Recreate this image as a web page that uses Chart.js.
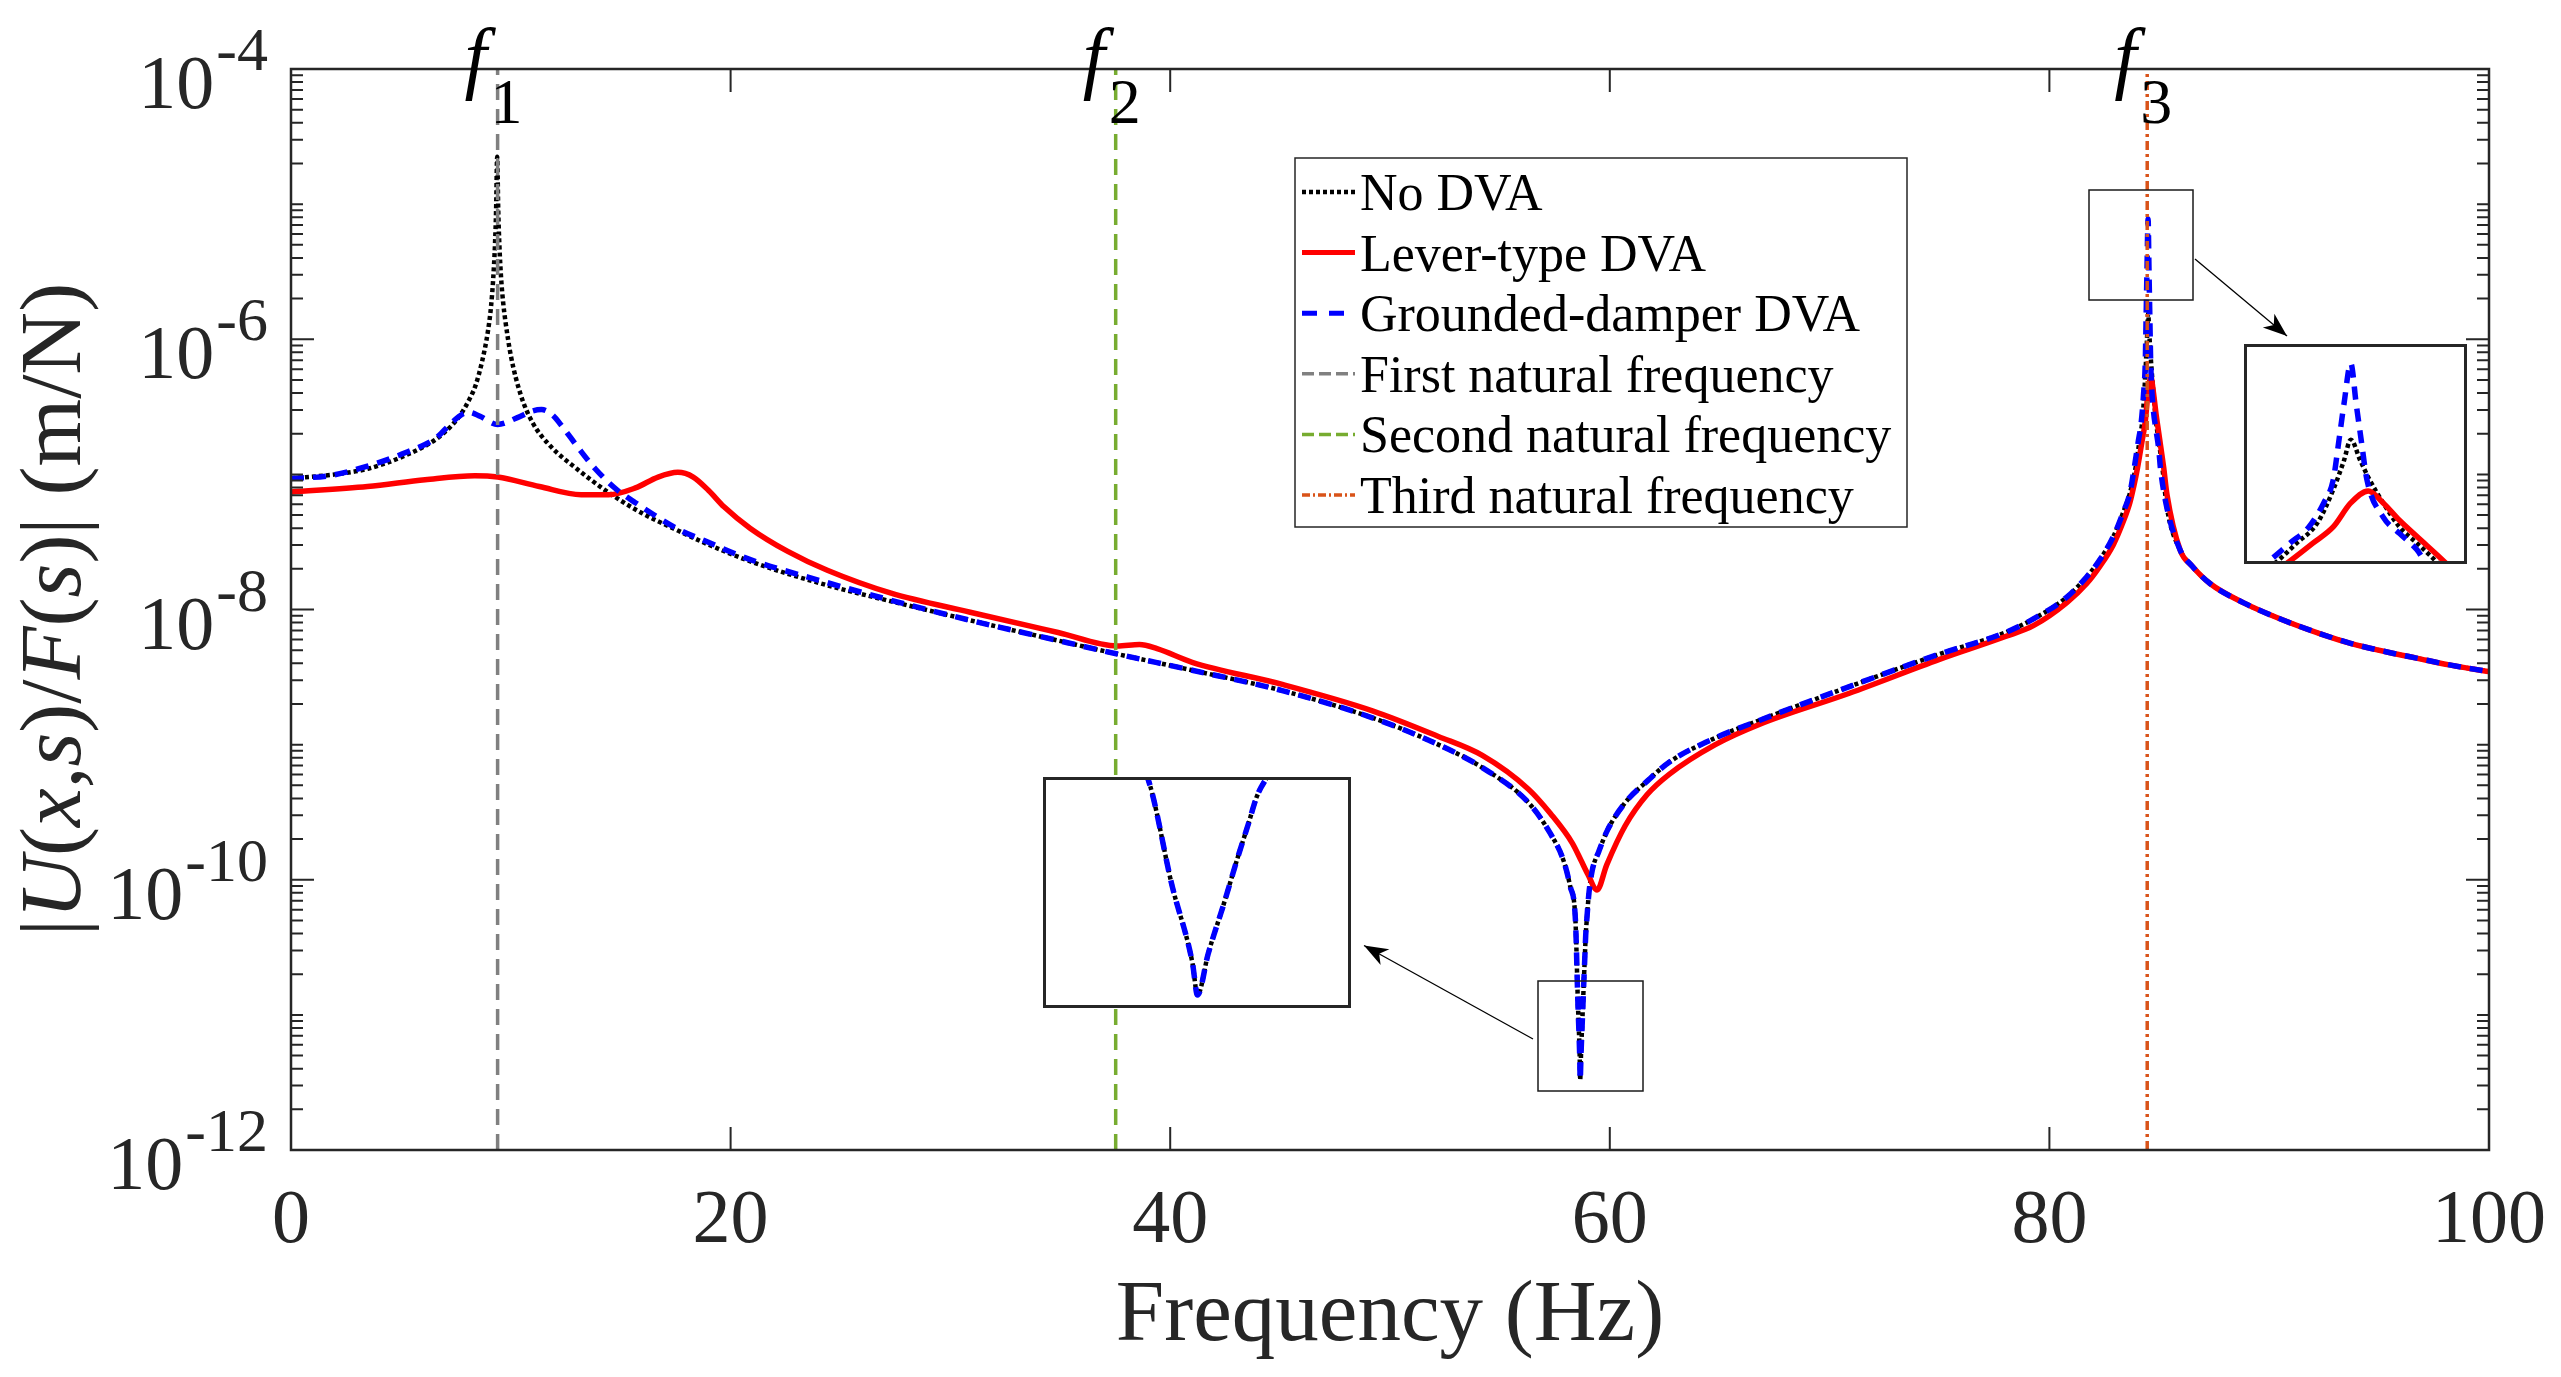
<!DOCTYPE html>
<html>
<head>
<meta charset="utf-8">
<script src="https://cdn.jsdelivr.net/npm/chart.js@4.4.1/dist/chart.umd.min.js"></script>
<style>
html,body{margin:0;padding:0;background:#fff;overflow:hidden;}
#wrap{position:relative;width:2561px;height:1377px;background:#fff;}
canvas{position:absolute;left:0;top:0;}
</style>
</head>
<body>
<div id="wrap">
<canvas id="main" width="2561" height="1377"></canvas>
<canvas id="inset1" width="308" height="231"></canvas>
<canvas id="inset2" width="223" height="220"></canvas>
</div>
<script>
// ---------------- data ----------------
const freqNoDva = [0,2,3.5,5.2,6.6,7.3,7.7,8.1,8.4,8.7,8.95,9.1,9.2,9.28,9.33,9.38,9.43,9.48,9.56,9.66,9.75,10,10.45,11,11.8,13,14.5,16,17.4,19,21,24.4,27.3,30.9,34.9,37.6,41,45.1,49.2,52.2,54.2,56.3,57.3,57.9,58.2,58.437,58.546,58.631,58.652,58.697,58.763,58.82,58.867,58.904,58.951,59.05,59.2,59.5,59.9,60.7,61.7,62.7,64.8,66.8,70.9,75,78,79.27,80.78,81.69,82.3,82.91,83.36,83.66,83.92,84.09,84.24,84.36,84.44,84.49,84.56,84.63,84.73,84.85,84.98,85.14,85.35,85.95,86.5,87.32,88.84,90.51,92.33,93.7,95.51,96.7,98.2,100];
const magNoDva = [9.33e-8,1.0e-7,1.10e-7,1.38e-7,1.82e-7,2.29e-7,2.75e-7,3.55e-7,4.57e-7,6.92e-7,1.12e-6,1.74e-6,2.82e-6,5.01e-6,8.91e-6,2.24e-5,8.91e-6,5.01e-6,2.82e-6,1.82e-6,1.38e-6,7.59e-7,3.89e-7,2.40e-7,1.62e-7,1.10e-7,7.24e-8,5.13e-8,3.98e-8,3.02e-8,2.24e-8,1.51e-8,1.15e-8,8.32e-9,5.89e-9,4.68e-9,3.55e-9,2.51e-9,1.58e-9,1.0e-9,6.76e-10,3.72e-10,2.19e-10,1.38e-10,8.91e-11,5.01e-11,1.26e-11,4.90e-12,3.31e-12,5.50e-12,1.02e-11,1.78e-11,2.75e-11,3.89e-11,5.01e-11,7.94e-11,1.17e-10,1.62e-10,2.34e-10,3.72e-10,5.37e-10,7.41e-10,1.12e-9,1.51e-9,2.69e-9,4.68e-9,6.76e-9,8.51e-9,1.23e-8,1.74e-8,2.34e-8,3.47e-8,5.25e-8,7.24e-8,1.12e-7,1.74e-7,2.63e-7,5.37e-7,1.0e-6,1.55e-6,1.0e-6,6.61e-7,4.07e-7,2.45e-7,1.74e-7,1.12e-7,5.62e-8,2.75e-8,2.09e-8,1.55e-8,1.12e-8,8.51e-9,6.61e-9,5.62e-9,4.79e-9,4.37e-9,3.89e-9,3.47e-9];

const freqLever = [0,3.48,6.1,8.36,9.4,11.3,13.2,14.45,15.67,16.7,17.6,18.3,19,19.7,20.9,22.6,24.4,27.3,30.9,34.9,37.6,38.6,39.4,41,45.1,49.2,52.2,54.2,56.3,57.3,58.3,58.7,59,59.42,59.86,60.7,61.7,62.7,64.8,66.8,70.9,75,78,79.27,80.78,81.69,82.3,82.91,83.36,83.66,83.85,84.01,84.21,84.36,84.49,84.62,84.73,84.85,84.98,85.2,85.35,85.95,86.5,87.32,88.84,90.51,92.33,93.7,95.51,96.7,98.2,100];
const magLever = [7.41e-8,8.13e-8,9.12e-8,9.77e-8,9.55e-8,8.13e-8,7.08e-8,7.08e-8,7.94e-8,9.55e-8,1.035e-7,9.55e-8,7.59e-8,5.75e-8,3.98e-8,2.69e-8,1.95e-8,1.32e-8,9.55e-9,6.76e-9,5.37e-9,5.50e-9,5.13e-9,4.07e-9,2.79e-9,1.78e-9,1.15e-9,8.32e-10,4.68e-10,3.09e-10,1.86e-10,1.38e-10,1.10e-10,8.41e-11,1.29e-10,2.51e-10,4.27e-10,6.03e-10,1.0e-9,1.41e-9,2.40e-9,4.27e-9,6.31e-9,7.59e-9,1.12e-8,1.55e-8,2.09e-8,3.02e-8,4.47e-8,6.17e-8,8.32e-8,1.12e-7,1.74e-7,2.45e-7,4.07e-7,5.25e-7,4.07e-7,2.82e-7,2.00e-7,1.12e-7,7.08e-8,2.75e-8,2.09e-8,1.55e-8,1.12e-8,8.51e-9,6.61e-9,5.62e-9,4.79e-9,4.37e-9,3.89e-9,3.47e-9];

const freqGrounded = [0,1.74,3.48,5.22,6.6,7.3,7.8,8.1,8.6,9.4,10.3,11,11.4,11.9,12.36,13.06,13.84,14.8,15.67,17.67,18.8,20.9,24.4,27.3,30.9,34.9,37.6,41,45.1,49.2,52.2,54.2,56.3,57.3,57.9,58.2,58.437,58.546,58.631,58.652,58.697,58.763,58.82,58.867,58.904,58.951,59.05,59.2,59.5,59.9,60.7,61.7,62.7,64.8,66.8,70.9,75,78,79.27,80.78,81.69,82.3,82.91,83.36,83.66,83.86,84.04,84.18,84.29,84.36,84.4,84.44,84.49,84.53,84.57,84.61,84.73,84.85,84.98,85.05,85.35,85.95,86.5,87.32,88.84,90.51,92.33,93.7,95.51,96.7,98.2,100];
const magGrounded = [9.33e-8,9.77e-8,1.15e-7,1.45e-7,1.86e-7,2.40e-7,2.79e-7,2.88e-7,2.69e-7,2.34e-7,2.63e-7,2.95e-7,3.02e-7,2.75e-7,2.24e-7,1.58e-7,1.10e-7,7.76e-8,6.17e-8,3.89e-8,3.24e-8,2.34e-8,1.58e-8,1.17e-8,8.32e-9,5.89e-9,4.68e-9,3.55e-9,2.51e-9,1.58e-9,1.0e-9,6.76e-10,3.72e-10,2.19e-10,1.38e-10,8.91e-11,5.01e-11,1.26e-11,4.90e-12,3.31e-12,5.50e-12,1.02e-11,1.78e-11,2.75e-11,3.89e-11,5.01e-11,7.94e-11,1.17e-10,1.62e-10,2.34e-10,3.72e-10,5.37e-10,7.41e-10,1.12e-9,1.51e-9,2.69e-9,4.68e-9,6.76e-9,8.51e-9,1.23e-8,1.74e-8,2.34e-8,3.47e-8,5.25e-8,7.24e-8,1.12e-7,1.74e-7,2.45e-7,4.07e-7,6.61e-7,1.45e-6,3.31e-6,7.76e-6,3.31e-6,1.45e-6,6.61e-7,3.02e-7,2.14e-7,1.51e-7,1.12e-7,5.62e-8,2.75e-8,2.09e-8,1.55e-8,1.12e-8,8.51e-9,6.61e-9,5.62e-9,4.79e-9,4.37e-9,3.89e-9,3.47e-9];

const naturalFreqs = [9.4, 37.52, 84.45];
const naturalLabels = ['1', '2', '3'];
const xRange = [0, 100];
const yRange = [1e-12, 1e-4];
const xTickValues = [0, 20, 40, 60, 80, 100];
const yLabelExps = [-12, -10, -8, -6, -4];
const inset1XRange = [58.0, 59.3];
const inset1YRange = [2.82e-12, 4.9e-11];
const inset2XRange = [83.7, 85.35];
const inset2YRange = [1.12e-7, 1.17e-5];
const legendLabels = ['No DVA', 'Lever-type DVA', 'Grounded-damper DVA', 'First natural frequency', 'Second natural frequency', 'Third natural frequency'];

// ---------------- styles / layout ----------------
const AX = '#262626';
const SERIF = "'Liberation Serif', 'Times New Roman', serif";
const styles = {
  noDva:    {color:'#000000', width:4.5, dash:[4,3],  legendDash:[4,3]},
  lever:    {color:'#FF0000', width:5.5, dash:[],     legendDash:[]},
  grounded: {color:'#0000FF', width:5.5, dash:[13,9], legendDash:[15,12]},
  f1:       {color:'#808080', width:3.5, dash:[16,9], legendDash:[12,5]},
  f2:       {color:'#77AC30', width:3.5, dash:[16,9], legendDash:[12,5]},
  f3:       {color:'#D95319', width:3.5, dash:[9,4,3,4], legendDash:[8,3,2,3]}
};
const legendOrder = ['noDva','lever','grounded','f1','f2','f3'];
const layout = {
  pad:{left:291, top:69, right:72, bottom:227},
  legend:{x:1295, y:158, w:612, h:369, row0:192, rowStep:60.6, sx0:1302, sx1:1355, tx:1360},
  inset1:{x:1043, y:777, w:308, h:231},
  inset2:{x:2244, y:344, w:223, h:220},
  rect1:{x:1538, y:981, w:105, h:110},
  rect2:{x:2089, y:190, w:104, h:110},
  arrow1:[1533,1039,1364,945.5],
  arrow2:[2195,259,2287,336]
};

const toPts = (xs, ys) => xs.map((x, i) => ({x: x, y: ys[i]}));
function lineDs(label, pts, st, order, smooth) {
  return {label, data: pts, borderColor: st.color, backgroundColor: st.color, borderWidth: st.width,
    borderDash: st.dash, pointRadius: 0, fill: false, order,
    cubicInterpolationMode: smooth ? 'monotone' : 'default', tension: 0,
    borderCapStyle: 'butt', borderJoinStyle: 'round'};
}
function curveDatasets() {
  return [
    lineDs(legendLabels[2], toPts(freqGrounded, magGrounded), styles.grounded, 4, true),
    lineDs(legendLabels[1], toPts(freqLever, magLever), styles.lever, 5, true),
    lineDs(legendLabels[0], toPts(freqNoDva, magNoDva), styles.noDva, 6, true)
  ];
}
function vlineDatasets() {
  const keys = ['f1','f2','f3'];
  return naturalFreqs.map((f, i) => lineDs(legendLabels[3 + i],
    [{x: f, y: yRange[0]}, {x: f, y: yRange[1]}], styles[keys[i]], 1 + i, false));
}

function arrow(ctx, x1, y1, x2, y2) {
  ctx.beginPath(); ctx.moveTo(x1, y1); ctx.lineTo(x2, y2); ctx.stroke();
  const a = Math.atan2(y2 - y1, x2 - x1), L = 24, W = 9;
  const c = Math.cos(a), s = Math.sin(a);
  const bx = x2 - L * c, by = y2 - L * s;
  const nx = -s, ny = c;
  ctx.beginPath();
  ctx.moveTo(x2, y2);
  ctx.lineTo(bx + nx * W, by + ny * W);
  ctx.lineTo(x2 - 0.72 * L * c, y2 - 0.72 * L * s);
  ctx.lineTo(bx - nx * W, by - ny * W);
  ctx.closePath(); ctx.fill();
}

const decor = {
  id: 'decor',
  beforeDraw(chart) {
    const ctx = chart.ctx;
    ctx.save(); ctx.fillStyle = '#fff'; ctx.fillRect(0, 0, chart.width, chart.height); ctx.restore();
  },
  afterDraw(chart) {
    const ctx = chart.ctx, a = chart.chartArea;
    const xs = chart.scales.x, ys = chart.scales.y;
    ctx.save();
    ctx.strokeStyle = AX; ctx.lineWidth = 2.5; ctx.setLineDash([]);
    ctx.strokeRect(a.left, a.top, a.right - a.left, a.bottom - a.top);
    ctx.lineWidth = 2;
    ctx.beginPath();
    xTickValues.forEach(v => {
      const px = xs.getPixelForValue(v);
      ctx.moveTo(px, a.bottom); ctx.lineTo(px, a.bottom - 23);
      ctx.moveTo(px, a.top); ctx.lineTo(px, a.top + 23);
    });
    for (let k = -12; k <= -4; k++) {
      const py = ys.getPixelForValue(Math.pow(10, k));
      const L = (k % 2 === 0) ? 23 : 12;
      ctx.moveTo(a.left, py); ctx.lineTo(a.left + L, py);
      ctx.moveTo(a.right, py); ctx.lineTo(a.right - L, py);
      if (k < -4) {
        for (let m = 2; m <= 9; m++) {
          const pm = ys.getPixelForValue(m * Math.pow(10, k));
          ctx.moveTo(a.left, pm); ctx.lineTo(a.left + 12, pm);
          ctx.moveTo(a.right, pm); ctx.lineTo(a.right - 12, pm);
        }
      }
    }
    ctx.stroke();
    ctx.fillStyle = AX;
    ctx.font = '76px ' + SERIF; ctx.textAlign = 'center'; ctx.textBaseline = 'alphabetic';
    xTickValues.forEach(v => ctx.fillText(String(v), xs.getPixelForValue(v), 1242));
    ctx.textAlign = 'right';
    const rx = a.left - 23;
    yLabelExps.forEach(k => {
      const py = ys.getPixelForValue(Math.pow(10, k));
      const e = '-' + String(-k);
      ctx.font = '62px ' + SERIF;
      const ew = ctx.measureText(e).width;
      ctx.fillText(e, rx, py + 1);
      ctx.font = '76px ' + SERIF;
      ctx.fillText('10', rx - ew - 2, py + 39);
    });
    ctx.font = '87px ' + SERIF; ctx.textAlign = 'center';
    ctx.fillText('Frequency (Hz)', (a.left + a.right) / 2, 1340);
    const parts = [['|',0],['U',1],['(',0],['x',1],[',',0],['s',1],[')/',0],['F',1],['(',0],['s',1],[')| (m/N)',0]];
    const fnt = it => (it ? 'italic ' : '') + '87px ' + SERIF;
    let tot = 0;
    parts.forEach(p => { ctx.font = fnt(p[1]); tot += ctx.measureText(p[0]).width; });
    ctx.save();
    ctx.translate(80, (a.top + a.bottom) / 2);
    ctx.rotate(-Math.PI / 2);
    ctx.textAlign = 'left';
    let cx = -tot / 2;
    parts.forEach(p => { ctx.font = fnt(p[1]); ctx.fillText(p[0], cx, 0); cx += ctx.measureText(p[0]).width; });
    ctx.restore();
    ctx.fillStyle = '#000'; ctx.textAlign = 'left';
    naturalFreqs.forEach((f, i) => {
      const lx = xs.getPixelForValue(f);
      ctx.font = 'italic 80px ' + SERIF; ctx.fillText('f', lx - 33, 84);
      ctx.font = '64px ' + SERIF; ctx.fillText(naturalLabels[i], lx - 7, 123);
    });
    ctx.strokeStyle = '#1a1a1a'; ctx.lineWidth = 1.5;
    [layout.rect1, layout.rect2].forEach(r => ctx.strokeRect(r.x, r.y, r.w, r.h));
    ctx.fillStyle = '#000'; ctx.strokeStyle = '#000'; ctx.lineWidth = 1.3;
    arrow(ctx, ...layout.arrow1);
    arrow(ctx, ...layout.arrow2);
    const L = layout.legend;
    ctx.fillStyle = '#fff'; ctx.fillRect(L.x, L.y, L.w, L.h);
    ctx.strokeStyle = AX; ctx.lineWidth = 1.5; ctx.strokeRect(L.x, L.y, L.w, L.h);
    ctx.font = '52px ' + SERIF; ctx.textBaseline = 'alphabetic'; ctx.textAlign = 'left';
    legendOrder.forEach((key, i) => {
      const st = styles[key];
      const y = L.row0 + i * L.rowStep;
      ctx.strokeStyle = st.color; ctx.lineWidth = Math.min(st.width, 5); ctx.lineCap = 'butt';
      ctx.setLineDash(st.legendDash);
      ctx.beginPath(); ctx.moveTo(L.sx0, y); ctx.lineTo(L.sx1, y); ctx.stroke();
      ctx.setLineDash([]);
      ctx.fillStyle = '#000';
      ctx.fillText(legendLabels[i], L.tx, y + 18);
    });
    ctx.restore();
  }
};

const baseOpts = (xr, yr, pad) => ({
  responsive: false, animation: false, devicePixelRatio: 1, events: [],
  layout: {padding: pad},
  plugins: {legend: {display: false}, tooltip: {enabled: false}},
  scales: {
    x: {type: 'linear', min: xr[0], max: xr[1], display: false},
    y: {type: 'logarithmic', min: yr[0], max: yr[1], display: false}
  }
});

new Chart(document.getElementById('main'), {
  type: 'line',
  data: {datasets: curveDatasets().concat(vlineDatasets())},
  options: baseOpts(xRange, yRange, layout.pad),
  plugins: [decor]
});

const insetFrame = {
  id: 'insetFrame',
  beforeDraw(chart) {
    const ctx = chart.ctx;
    ctx.save(); ctx.fillStyle = '#fff'; ctx.fillRect(0, 0, chart.width, chart.height); ctx.restore();
  },
  afterDraw(chart) {
    const ctx = chart.ctx;
    ctx.save(); ctx.strokeStyle = AX; ctx.lineWidth = 3; ctx.setLineDash([]);
    ctx.strokeRect(1.5, 1.5, chart.width - 3, chart.height - 3); ctx.restore();
  }
};
function makeInset(id, box, xr, yr) {
  const c = document.getElementById(id);
  c.width = box.w; c.height = box.h;
  c.style.left = box.x + 'px'; c.style.top = box.y + 'px';
  c.style.width = box.w + 'px'; c.style.height = box.h + 'px';
  new Chart(c, {type: 'line', data: {datasets: curveDatasets()},
    options: baseOpts(xr, yr, 0), plugins: [insetFrame]});
}
makeInset('inset1', layout.inset1, inset1XRange, inset1YRange);
makeInset('inset2', layout.inset2, inset2XRange, inset2YRange);
</script>
</body>
</html>
